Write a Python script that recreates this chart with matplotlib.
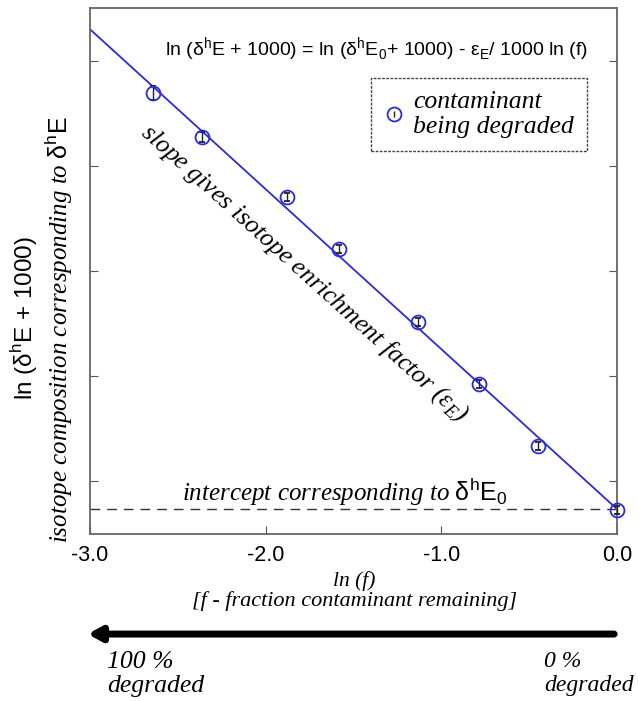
import matplotlib.pyplot as plt
from matplotlib.patches import FancyArrowPatch
from matplotlib.lines import Line2D
import numpy as np

# data (y in arbitrary units, axis runs 0..10)
ln_f = [-2.64, -2.36, -1.88, -1.58, -1.13, -0.785, -0.45, 0.0]
ln_delta = [8.38, 7.55, 6.41, 5.42, 4.03, 2.85, 1.67, 0.46]
err = [0.13, 0.10, 0.08, 0.08, 0.08, 0.08, 0.08, 0.08]
intercept = 0.475
slope = -3.04
xticks = [-3.0, -2.0, -1.0, 0.0]
yticks = [1, 3, 5, 7, 9]

serif = ['Liberation Serif', 'DejaVu Serif']
sans = ['Liberation Sans', 'DejaVu Sans']
plt.rcParams['font.family'] = sans
plt.rcParams['mathtext.fontset'] = 'custom'
plt.rcParams['mathtext.rm'] = 'Liberation Sans'

fig = plt.figure(figsize=(6.38, 7.01), dpi=100)
ax = fig.add_axes([0.1411, 0.2382, 0.967 - 0.1411, 0.9886 - 0.2382])

blue = '#2b2bd9'
xfit = np.array([-3.0, 0.0])
ax.plot(xfit, intercept + slope * xfit, color=blue, lw=1.3, zorder=2)
ax.axhline(intercept, color='#333333', lw=1.0, ls=(0, (7, 5)), zorder=1)
ax.errorbar(ln_f, ln_delta, yerr=err, fmt='o', mfc='none', mec=blue,
            mew=1.3, ms=10, ecolor='#222222', elinewidth=1.0,
            capsize=2, zorder=4, clip_on=False)

ax.set_xlim(-3.0, 0.0)
ax.set_ylim(0, 10)
ax.set_xticks(xticks)
ax.set_xticklabels(['%.1f' % v for v in xticks])
ax.set_yticks(yticks)
ax.set_yticklabels([])
ax.tick_params(direction='in', length=6, color='#555555', labelsize=15.5,
               right=True, pad=8)
for s in ax.spines.values():
    s.set_color('#666666')
    s.set_linewidth(1.3)

ax.text(-1.37, 9.2,
        r'ln (δ$^{\mathregular{h}}$E + 1000) = ln (δ$^{\mathregular{h}}$E$_{\mathregular{0}}$+ 1000) - '
        r'ε$_{\mathregular{E}}$/ 1000 ln (f)',
        ha='center', va='center', fontsize=14, family=sans)

circ = Line2D([], [], ls='none', marker='o', mfc='none', mec=blue, mew=1.3, ms=10)
bar = Line2D([], [], ls='none', marker='$\\mathregular{I}$', color='#222222', ms=5)
leg = ax.legend([(circ, bar)], ['contaminant\nbeing degraded'], loc='upper right',
                bbox_to_anchor=(0.943, 0.867), borderaxespad=0, fancybox=False,
                prop={'family': serif, 'style': 'italic', 'size': 18.5},
                handlelength=0.8, handletextpad=0.35, borderpad=0.5,
                labelspacing=0.2, edgecolor='#444444', framealpha=1)
leg.get_frame().set_linestyle((0, (2, 1)))
leg.get_frame().set_linewidth(1.0)

ax.text(-1.78, 4.95, r'slope gives isotope enrichment factor (ε$_{\mathregular{E}}$)',
        rotation=-42, rotation_mode='anchor', ha='center', va='center',
        fontsize=18.5, family=serif, style='italic')
ax.text(-1.55, 0.8, r'intercept corresponding to $\mathrm{δ^{h}E_{0}}$',
        ha='center', va='center', fontsize=18, family=serif, style='italic')

fig.text(0.038, 0.546, r'ln (δ$^{\mathregular{h}}$E + 1000)', rotation=90,
         ha='center', va='center', fontsize=17.5, family=sans)
fig.text(0.092, 0.53, r'isotope composition corresponding to $\mathrm{δ^{h}E}$',
         rotation=90, ha='center', va='center', fontsize=18, family=serif,
         style='italic')

fig.text(0.555, 0.171, 'ln (f)', ha='center', va='center', fontsize=15.5,
         family=serif, style='italic')
fig.text(0.555, 0.142, '[f - fraction contaminant remaining]', ha='center',
         va='center', fontsize=16, family=serif, style='italic')

fig.add_artist(FancyArrowPatch(
    (0.967, 0.0955), (0.133, 0.0955), transform=fig.transFigure,
    arrowstyle='-|>,head_length=0.55,head_width=0.3', mutation_scale=14,
    lw=5, color='black'))

fig.text(0.168, 0.039, '100 %\ndegraded', ha='left', va='center',
         fontsize=18.5, family=serif, style='italic', linespacing=1.1)
fig.text(0.993, 0.039, '0 %\ndegraded', ha='right', va='center',
         fontsize=17, family=serif, style='italic', linespacing=1.2,
         multialignment='left')

fig.savefig('out.png', dpi=100)
